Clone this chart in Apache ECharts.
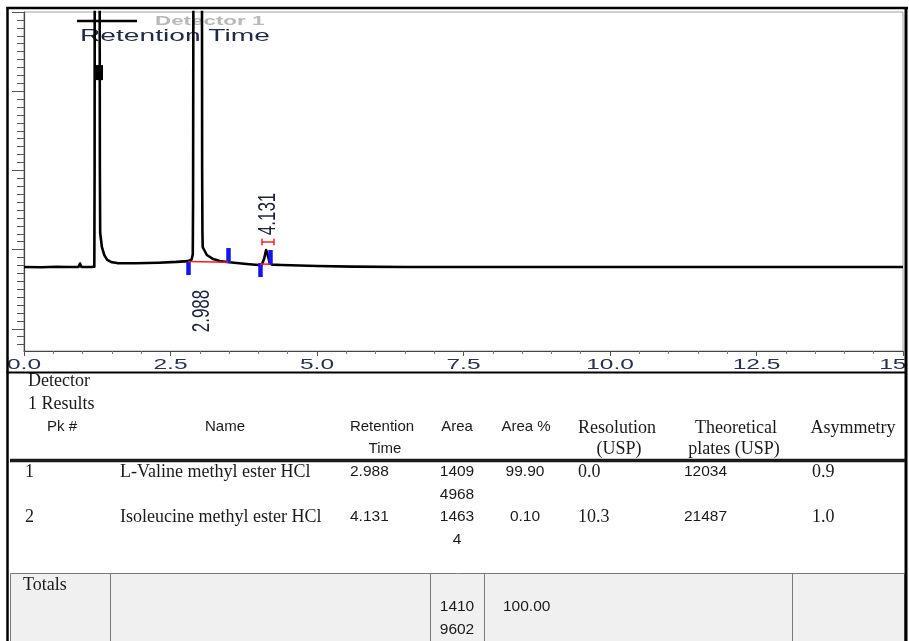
<!DOCTYPE html>
<html>
<head>
<meta charset="utf-8">
<script src="https://cdn.jsdelivr.net/npm/echarts@6/dist/echarts.min.js"></script>
<style>
  html, body { margin: 0; padding: 0; background: #fff; }
  #chart { width: 909px; height: 641px; }
</style>
</head>
<body>
<div id="chart"></div>
<script>
// ---- Detector 1 trace: retention time (min) vs. signal (mV) ----
const timeMin = [
  0.00, 0.30, 0.55, 0.75, 0.93, 0.956, 0.98, 1.15, 1.20, 1.205, 1.21, 1.22, 1.26, 1.28, 1.29, 1.295,
  1.30, 1.33, 1.37, 1.42, 1.50, 1.59, 1.90, 2.30, 2.60, 2.80, 2.86, 2.88, 2.885, 2.89, 2.91, 2.988,
  3.02, 3.035, 3.04, 3.045, 3.05, 3.12, 3.23, 3.34, 3.46, 3.80, 4.00, 4.06, 4.10, 4.131, 4.16, 4.19,
  4.23, 4.40, 5.00, 5.60, 6.50, 8.00, 10.0, 12.0, 15.0
];
const signalMv = [
  7.80, 7.78, 7.83, 7.80, 7.82, 8.25, 7.80, 7.80, 7.85, 20, 80, 150, 170, 110, 50, 20,
  12.1, 10.3, 9.3, 8.7, 8.40, 8.30, 8.28, 8.35, 8.45, 8.55, 8.75, 9.4, 16, 40, 150, 320,
  200, 60, 20, 12.1, 10.3, 9.32, 8.81, 8.55, 8.43, 8.18, 8.06, 8.12, 8.9, 9.95, 9.3, 8.4,
  8.1, 8.06, 7.93, 7.85, 7.80, 7.80, 7.80, 7.80, 7.80
];

// x-axis tick values and their printed labels
const xTickValues = [0, 2.5, 5, 7.5, 10, 12.5, 15];
const xTickLabels = ['0.0', '2.5', '5.0', '7.5', '10.0', '12.5', '15.0'];

// integration event marks (time, low mV, high mV)
const eventTimes = [2.80, 3.48, 4.03, 4.20];
const eventLow   = [6.79, 8.31, 6.54, 8.06];
const eventHigh  = [8.43, 10.2, 8.31, 9.95];

// drawn baselines under the integrated peaks: [t0, v0, t1, v1]
const baselineSegs = [[2.80, 8.50, 3.48, 8.40], [4.03, 8.18, 4.20, 8.14]];

// peak-width bar on peak 2: start time, end time, level (mV)
const widthBar = [4.06, 4.27, 10.96];

// detector overload marker on the void peak: time, low mV, high mV
const overloadMark = [1.28, 31.4, 33.3];

// ---- results table ----
const pkNo          = [1, 2];
const peakNames     = ['L-Valine methyl ester HCl', 'Isoleucine methyl ester HCl'];
const retTimes      = [2.988, 4.131];
const areaCounts    = [14094968, 14634];
const areaPct       = [99.90, 0.10];
const resolutionUsp = [0.0, 10.3];
const platesUsp     = [12034, 21487];
const asymmetry     = [0.9, 1.0];
const totalArea     = 14109602;
const totalPct      = 100.00;

// ---------------------------------------------------------------
const chart = echarts.init(document.getElementById('chart'), null, { renderer: 'canvas' });

const trace = timeMin.map((t, i) => [t, signalMv[i]]);

const majorY = [0, 10, 20, 30, 40];
const minorY = [];
for (let v = -2; v <= 40; v++) if (v % 10 !== 0) minorY.push(v);

const markData = [];
eventTimes.forEach((t, i) => {
  markData.push([
    { coord: [t, eventLow[i]], lineStyle: { color: '#1414f0', width: 4.5, type: 'solid' } },
    { coord: [t, eventHigh[i]] }
  ]);
});
baselineSegs.forEach(s => {
  markData.push([
    { coord: [s[0], s[1]], lineStyle: { color: '#ff1a1a', width: 1.5, type: 'solid' } },
    { coord: [s[2], s[3]] }
  ]);
});
const capH = 0.4;
const redThin = { color: '#ff2020', width: 1.5, type: 'solid' };
markData.push([{ coord: [widthBar[0], widthBar[2]], lineStyle: redThin }, { coord: [widthBar[1], widthBar[2]] }]);
markData.push([{ coord: [widthBar[0], widthBar[2] - capH], lineStyle: redThin }, { coord: [widthBar[0], widthBar[2] + capH] }]);
markData.push([{ coord: [widthBar[1], widthBar[2] - capH], lineStyle: redThin }, { coord: [widthBar[1], widthBar[2] + capH] }]);
markData.push([
  { coord: [overloadMark[0], overloadMark[1]], lineStyle: { color: '#000', width: 7, type: 'solid' } },
  { coord: [overloadMark[0], overloadMark[2]] }
]);

const tickStyle = { color: '#555', width: 1 };

chart.setOption({
  animation: false,
  backgroundColor: '#fff',
  grid: { left: 24, top: 12, right: 6, bottom: 290, show: true, borderColor: '#a0a0a0', borderWidth: 1 },
  xAxis: {
    type: 'value', min: 0, max: 15, interval: 2.5,
    axisLine: { show: true, onZero: false, lineStyle: { color: '#444', width: 1.2 } },
    axisTick: { show: true, length: 5, lineStyle: tickStyle },
    minorTick: { show: true, splitNumber: 5, length: 3, lineStyle: { color: '#777', width: 1 } },
    axisLabel: { show: false },
    splitLine: { show: false }
  },
  yAxis: [
    {
      type: 'value', min: -2.8, max: 40, position: 'left',
      axisLine: { show: true, onZero: false, lineStyle: { color: '#444', width: 1.2 } },
      axisTick: { show: true, customValues: majorY, length: 12, lineStyle: tickStyle },
      axisLabel: { show: false },
      splitLine: { show: false }
    },
    {
      type: 'value', min: -2.8, max: 40, position: 'left', offset: 0,
      axisLine: { show: false },
      axisTick: { show: true, customValues: minorY, length: 7, lineStyle: tickStyle },
      axisLabel: { show: false },
      splitLine: { show: false }
    }
  ],
  series: [{
    name: 'Detector 1',
    type: 'line',
    yAxisIndex: 0,
    data: trace,
    showSymbol: false,
    clip: true,
    lineStyle: { color: '#000', width: 2.6, join: 'round' },
    z: 3,
    markLine: { silent: true, symbol: ['none', 'none'], animation: false, label: { show: false }, data: markData }
  }]
});

// ---- overlay: texts, frame and results table ----
const g = [];
const SANS = '"Liberation Sans", Arial, sans-serif';
const SERIF = '"Liberation Serif", "Times New Roman", serif';

function txt(x, y, text, font, fill, align, extra) {
  return Object.assign({
    type: 'text', x, y, z: 20, silent: true,
    style: { text, font, fill, align, verticalAlign: 'middle', textAlign: align, textVerticalAlign: 'middle' }
  }, extra || {});
}
function line(x1, y1, x2, y2, stroke, w, z) {
  return { type: 'line', z: z || 30, silent: true, shape: { x1, y1, x2, y2 }, style: { stroke, lineWidth: w } };
}

// x tick labels (wide face)
xTickValues.forEach((v, i) => {
  const p = chart.convertToPixel({ gridIndex: 0 }, [v, 0]);
  g.push(txt(p[0], 365, xTickLabels[i], '14px ' + SANS, '#26314e', 'center', { scaleX: 1.75 }));
});

// retention time labels
const rtAnchor = [[3, 2.25], [2, 14.5]];
retTimes.forEach((rt, i) => {
  const p = chart.convertToPixel({ gridIndex: 0 }, [rt, rtAnchor[i][1]]);
  g.push(txt(p[0] + rtAnchor[i][0], p[1], rt.toFixed(3), '17px ' + SANS, '#1c2338', 'center',
    { rotation: Math.PI / 2, scaleY: 1.45 }));
});

// legend + title
g.push(line(77, 21, 137, 21, '#000', 2.5, 2));
g.push(txt(155, 21, 'Detector 1', 'bold 13px ' + SANS, '#b8b8b8', 'left', { scaleX: 1.72, z: 1 }));
g.push(txt(80, 37, 'Retention Time', '16px ' + SANS, '#1f2a48', 'left', { scaleX: 1.76, z: 1 }));

// clip strip at the right edge and page frame
g.push({ type: 'rect', z: 28, silent: true, shape: { x: 906, y: 0, width: 10, height: 641 }, style: { fill: '#fff' } });
g.push({ type: 'rect', z: 28, silent: true, shape: { x: 0, y: 0, width: 6.5, height: 641 }, style: { fill: '#fff' } });
g.push(line(7.5, 7, 7.5, 641, '#000', 2.5));
g.push(line(6.5, 8, 908, 8, '#000', 2.5));
g.push(line(906, 7, 906, 641, '#000', 3));
g.push(line(6.5, 372.5, 907, 372.5, '#000', 2));

// table header
const hdrSans = '15px ' + SANS, hdrSerif = '18px ' + SERIF;
const ink = '#1a1a1a';
g.push(txt(28, 381, 'Detector', hdrSerif, ink, 'left'));
g.push(txt(28, 404, '1 Results', hdrSerif, ink, 'left'));
g.push(txt(62, 427, 'Pk #', hdrSans, ink, 'center'));
g.push(txt(225, 427, 'Name', hdrSans, ink, 'center'));
g.push(txt(382, 427, 'Retention', hdrSans, ink, 'center'));
g.push(txt(385, 449, 'Time', hdrSans, ink, 'center'));
g.push(txt(457, 427, 'Area', hdrSans, ink, 'center'));
g.push(txt(526, 427, 'Area %', hdrSans, ink, 'center'));
g.push(txt(617, 428, 'Resolution', hdrSerif, ink, 'center'));
g.push(txt(619, 449, '(USP)', hdrSerif, ink, 'center'));
g.push(txt(736, 428, 'Theoretical', hdrSerif, ink, 'center'));
g.push(txt(734, 449, 'plates (USP)', hdrSerif, ink, 'center'));
g.push(txt(853, 428, 'Asymmetry', hdrSerif, ink, 'center'));
g.push(line(10, 460.5, 905, 460.5, '#1a1a1a', 3.5));

// table rows
const cellSans = '15.5px ' + SANS;
function chunks(n) { return String(n).match(/.{1,4}/g); }
const rowY = [472, 517];
pkNo.forEach((pk, i) => {
  const y = rowY[i];
  g.push(txt(25, y, String(pk), hdrSerif, ink, 'left'));
  g.push(txt(120, y, peakNames[i], hdrSerif, ink, 'left'));
  g.push(txt(350, y, retTimes[i].toFixed(3), cellSans, ink, 'left'));
  chunks(areaCounts[i]).forEach((c, k) => g.push(txt(457, y + 23 * k, c, cellSans, ink, 'center')));
  g.push(txt(525, y, areaPct[i].toFixed(2), cellSans, ink, 'center'));
  g.push(txt(578, y, resolutionUsp[i].toFixed(1), hdrSerif, ink, 'left'));
  g.push(txt(684, y, String(platesUsp[i]), cellSans, ink, 'left'));
  g.push(txt(812, y, asymmetry[i].toFixed(1), hdrSerif, ink, 'left'));
});

// totals row
g.push({ type: 'rect', z: 10, silent: true, shape: { x: 10.5, y: 573.5, width: 894, height: 80 },
  style: { fill: '#f0f0f0', stroke: '#7a7a7a', lineWidth: 1 } });
[110.5, 430.5, 484.5, 792.5].forEach(x => g.push(line(x, 573.5, x, 641, '#7a7a7a', 1, 11)));
g.push(txt(23, 585, 'Totals', hdrSerif, ink, 'left'));
chunks(totalArea).forEach((c, k) => g.push(txt(457, 607 + 23 * k, c, cellSans, ink, 'center')));
g.push(txt(503, 607, totalPct.toFixed(2), cellSans, ink, 'left'));

chart.setOption({ graphic: { elements: g } });
</script>
</body>
</html>
